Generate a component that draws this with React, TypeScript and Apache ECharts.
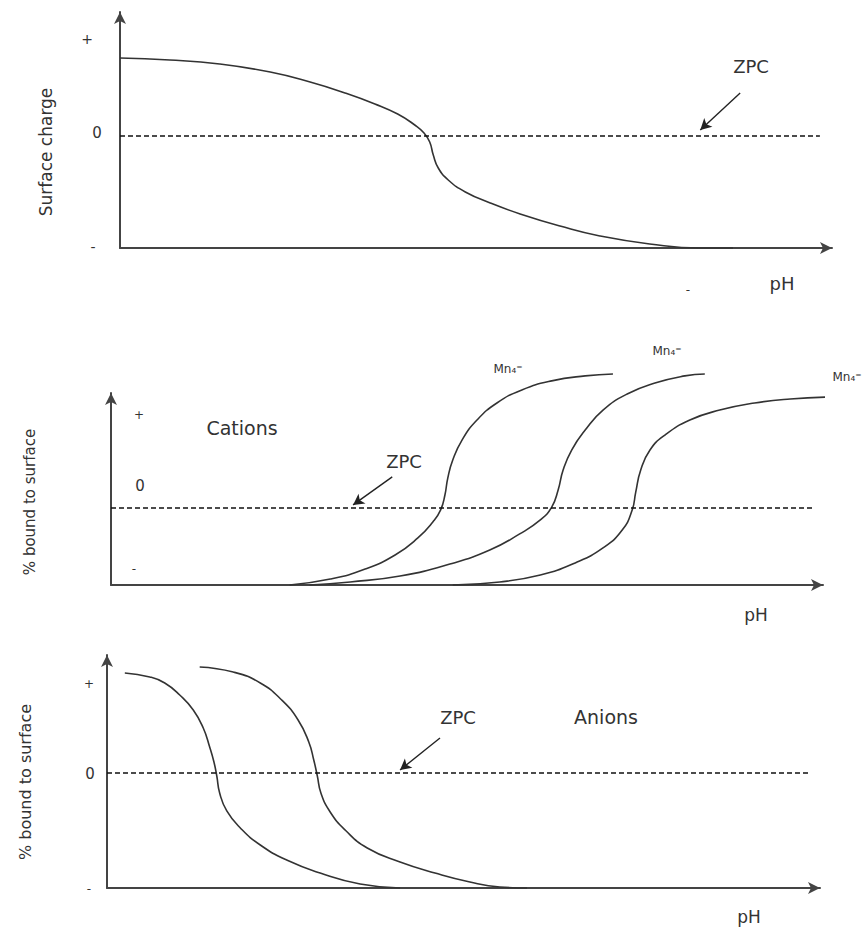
import React, { useEffect, useRef } from "react";
import * as echarts from "echarts";

// Surface charge against pH (x in relative pH units 0–100, y in relative charge units)
const chargePH = [0, 7.0, 14.0, 21.1, 26.7, 31.6, 35.8, 39.0, 41.4, 42.7, 43.5, 44.0, 44.7, 46.1, 48.5, 52.0, 56.2, 61.8, 67.4, 74.4, 81.5, 86.1];
const chargeVal = [69.6, 67.9, 64.3, 57.1, 48.2, 38.4, 28.6, 19.6, 9.8, 2.7, -5.4, -17.0, -28.6, -39.3, -50.0, -59.8, -69.6, -80.4, -89.3, -96.4, -100, -100];

// Cations: % bound to surface for three metal ions
const cation1PH = [25.1, 30.8, 35.7, 39.9, 43.1, 45.2, 46.3, 46.9, 47.3, 48.0, 49.3, 51.4, 54.2, 57.7, 61.9, 66.6, 70.5];
const cation1Val = [0, 3.1, 8.3, 15.6, 24.5, 32.8, 39.1, 46.9, 55.7, 65.1, 75.5, 85.9, 94.8, 101.6, 106.3, 108.9, 109.9];
const cation2PH = [27.9, 33.6, 40.6, 47.6, 53.2, 57.4, 60.3, 61.9, 62.8, 63.5, 64.7, 66.6, 69.1, 72.5, 76.4, 80.6, 83.4];
const cation2Val = [0, 1.6, 4.7, 10.9, 18.2, 26.6, 33.9, 40.6, 49.5, 59.9, 70.3, 80.7, 91.1, 99.5, 105.2, 108.9, 109.9];
const cation3PH = [48.0, 54.6, 60.3, 65.2, 69.1, 71.8, 73.2, 73.7, 74.4, 75.7, 77.8, 81.3, 85.5, 90.4, 95.4, 100.6];
const cation3Val = [0, 1.6, 5.2, 11.5, 19.3, 28.6, 39.1, 48.4, 59.9, 70.3, 78.1, 85.9, 91.1, 94.8, 96.9, 97.9];
const cationLabels = ["Mn₄⁼", "Mn₄⁼", "Mn₄⁼"];

// Anions: % bound to surface for two anions
const anion1PH = [2.5, 6.0, 8.1, 10.2, 12.1, 13.5, 14.4, 15.0, 15.4, 15.8, 16.8, 18.7, 21.5, 25.2, 29.9, 35.5, 41.1];
const anion1Val = [87.0, 83.5, 78.3, 67.8, 54.8, 39.1, 22.6, 9.6, -2.6, -17.4, -33.0, -47.8, -62.6, -75.7, -87.0, -96.5, -100];
const anion2PH = [13.0, 17.7, 21.5, 24.5, 26.8, 28.3, 29.0, 29.5, 30.0, 31.3, 33.4, 36.5, 41.1, 46.0, 50.9, 55.1, 58.9];
const anion2Val = [92.2, 87.8, 78.3, 63.5, 46.1, 27.0, 11.3, -2.6, -17.4, -33.9, -49.6, -65.2, -77.4, -87.0, -94.8, -99.1, -100];

// ZPC level and the pH extent of the dashed ZPC line, per panel
const zpcLevel = [0, 40.1, 0];
const zpcEnd = [98.3, 98.6, 98.6];
// ZPC pointer arrows: [fromPH, fromVal, toPH, toVal]
const zpcPointer = [
  [87.1, 38.4, 81.5, 5.4],
  [39.5, 56.3, 34.0, 41.7],
  [46.7, 30.4, 41.1, 2.6],
];

const zip = (xs: number[], ys: number[]) => xs.map((x, i) => [x, ys[i]]);

const FONT = "DejaVu Sans";
const INK = "#333";

export default function App() {
  const ref = useRef<HTMLDivElement>(null);

  useEffect(() => {
    if (!ref.current) return;
    const chart = echarts.init(ref.current, undefined, { renderer: "svg" });

    const grids = [
      { left: 120, top: 12, width: 712, height: 236 },
      { left: 111, top: 393, width: 712, height: 192 },
      { left: 107, top: 655, width: 713, height: 233 },
    ];
    const yRanges = [
      [-100, 110.7],
      [0, 100],
      [-100, 102.6],
    ];

    const axisLine = {
      show: true,
      onZero: false,
      symbol: ["none", "arrow"],
      symbolSize: [9, 12],
      lineStyle: { color: "#444", width: 2 },
    };
    const bare = {
      axisTick: { show: false },
      axisLabel: { show: false },
      splitLine: { show: false },
    };

    const curve = (data: number[][], gi: number, extra: any = {}) => ({
      type: "line",
      xAxisIndex: gi,
      yAxisIndex: gi,
      data,
      smooth: 0.5,
      showSymbol: false,
      symbol: "none",
      clip: false,
      lineStyle: { color: INK, width: 1.6 },
      silent: true,
      ...extra,
    });

    const guides = (gi: number) => ({
      markLine: {
        silent: true,
        animation: false,
        label: { show: false },
        data: [
          [
            { coord: [0, zpcLevel[gi]], symbol: "none", lineStyle: { type: [5, 3], color: "#111", width: 1.6 } },
            { coord: [zpcEnd[gi], zpcLevel[gi]], symbol: "none" },
          ],
          [
            {
              coord: [zpcPointer[gi][0], zpcPointer[gi][1]],
              symbol: "none",
              lineStyle: { type: "solid", color: "#222", width: 1.4 },
            },
            { coord: [zpcPointer[gi][2], zpcPointer[gi][3]], symbol: "arrow", symbolSize: [9, 11] },
          ],
        ],
      },
    });

    const series: any[] = [
      curve(zip(chargePH, chargeVal), 0, guides(0)),
      curve(zip(cation1PH, cation1Val), 1, guides(1)),
      curve(zip(cation2PH, cation2Val), 1),
      curve(zip(cation3PH, cation3Val), 1),
      curve(zip(anion1PH, anion1Val), 2, guides(2)),
      curve(zip(anion2PH, anion2Val), 2),
    ];

    const txt = (text: string, x: number, y: number, size: number, rotation = 0) => ({
      type: "text",
      x,
      y,
      rotation,
      silent: true,
      style: {
        text,
        fill: INK,
        font: `${size}px "${FONT}"`,
        align: "center",
        verticalAlign: "middle",
      },
    });

    const graphic = [
      // Surface charge panel
      txt("+", 87, 39, 14),
      txt("0", 97, 133, 15),
      txt("-", 93, 247, 14),
      txt("Surface charge", 46, 152, 17, Math.PI / 2),
      txt("ZPC", 751, 66, 18),
      txt("pH", 782, 283, 18),
      txt("-", 688, 290, 12),
      // Cations panel
      txt("+", 139, 415, 12),
      txt("Cations", 242, 428, 19),
      txt("ZPC", 404, 461, 18),
      txt("0", 140, 486, 15),
      txt("-", 134, 569, 12),
      txt("% bound to surface", 30, 502, 15, Math.PI / 2),
      txt("pH", 756, 615, 17),
      txt(cationLabels[0], 508, 369, 12),
      txt(cationLabels[1], 667, 351, 12),
      txt(cationLabels[2], 847, 377, 12),
      // Anions panel
      txt("+", 89, 684, 12),
      txt("0", 90, 774, 15),
      txt("-", 89, 889, 12),
      txt("% bound to surface", 25, 782, 16, Math.PI / 2),
      txt("ZPC", 458, 717, 18),
      txt("Anions", 606, 717, 19),
      txt("pH", 749, 917, 17),
    ];

    chart.setOption({
      animation: false,
      backgroundColor: "#fff",
      grid: grids.map((g) => ({ ...g, containLabel: false })),
      xAxis: grids.map((_, i) => ({
        type: "value",
        gridIndex: i,
        min: 0,
        max: 100,
        axisLine,
        ...bare,
      })),
      yAxis: grids.map((_, i) => ({
        type: "value",
        gridIndex: i,
        min: yRanges[i][0],
        max: yRanges[i][1],
        axisLine,
        ...bare,
      })),
      series,
      graphic,
    });

    return () => chart.dispose();
  }, []);

  return (
    <div
      ref={ref}
      style={{ position: "fixed", left: 0, top: 0, width: 868, height: 929, background: "#fff" }}
    />
  );
}
